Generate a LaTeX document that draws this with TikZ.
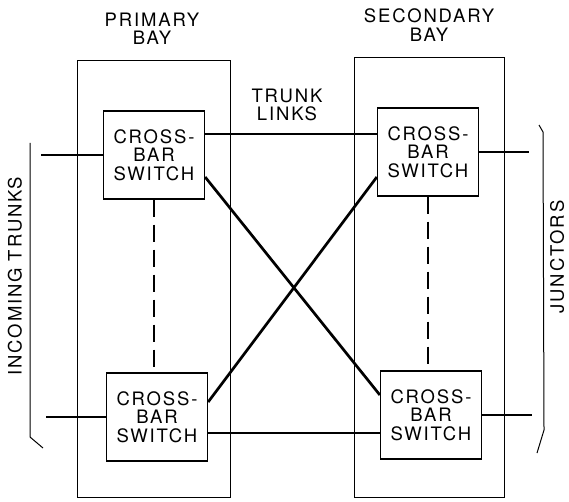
\documentclass[tikz,border=0pt]{standalone}
\usepackage{fontspec}
\setmainfont[LetterSpace=10]{TeX Gyre Heros}

\tikzset{
  switch/.style = {draw, line width=1.3pt, minimum width=101pt,
                   minimum height=88pt, inner sep=0pt, align=center},
  bay/.style    = {draw, line width=1pt, inner sep=0pt},
  link/.style   = {line width=2.7pt},
  tie/.style    = {line width=2.7pt, dash pattern=on 17pt off 8pt},
  brace/.style  = {line width=1pt},
}

\begin{document}
\begin{tikzpicture}[x=1pt, y=-1pt, font=\fontsize{18.5}{18.5}\selectfont]
    \useasboundingbox (0,0) rectangle (569,502);

    \node[bay, minimum width=153pt, minimum height=436pt] (pbay) at (153.5,279) {};
    \node[bay, minimum width=150pt, minimum height=439pt] (sbay) at (429,277.5) {};
    \node[align=center] (plbl) at (152,29)  {PRIMARY\\BAY};
    \node[align=center] (slbl) at (429,25)  {SECONDARY\\BAY};
    \node[align=center] (tlbl) at (287,105) {TRUNK\\LINKS};

    \node[switch] (pri1) at (154,155)                     {CROSS-\\BAR\\SWITCH};
    \node[switch] (pri2) at ([shift={(3,262)}] pri1)      {CROSS-\\BAR\\SWITCH};
    \node[switch] (sec1) at (428,152)                     {CROSS-\\BAR\\SWITCH};
    \node[switch] (sec2) at ([shift={(3,263)}] sec1)      {CROSS-\\BAR\\SWITCH};

    \coordinate (in1)  at (41,156);
    \coordinate (in2)  at (46,414);
    \coordinate (out1) at (529,152);
    \coordinate (out2) at (532,411);

    % trunk links
    \draw[link] ([yshift=21pt]pri1.east)  -- ([yshift=21pt]pri1.east -| sec1.west);
    \draw[link] ([yshift=-16pt]pri2.east) -- ([yshift=-16pt]pri2.east -| sec2.west);
    \draw[link] ([yshift=-22pt]pri1.east) -- ([yshift=20pt]sec2.west);
    \draw[link] ([yshift=15pt]pri2.east)  -- ([yshift=-25pt]sec1.west);

    % trunks and junctors
    \draw[link] (pri1.west) -- (pri1.west -| in1);
    \draw[link] (pri2.west) -- (pri2.west -| in2);
    \draw[link] (sec1.east) -- (sec1.east -| out1);
    \draw[link] (sec2.east) -- (sec2.east -| out2);

    \draw[tie] (pri1.south) -- (pri1.south |- pri2.north);
    \draw[tie] (sec1.south) -- (sec1.south |- sec2.north);

    \draw[brace] (30,143) -- (30,437) -- (43,448);
    \draw[brace] (539,125) -- (543,132) -- (544,430) -- (537,453);
    \node[rotate=90] (intr) at (15,276)  {INCOMING TRUNKS};
    \node[rotate=90] (junc) at (557,257) {JUNCTORS};
\end{tikzpicture}
\end{document}
